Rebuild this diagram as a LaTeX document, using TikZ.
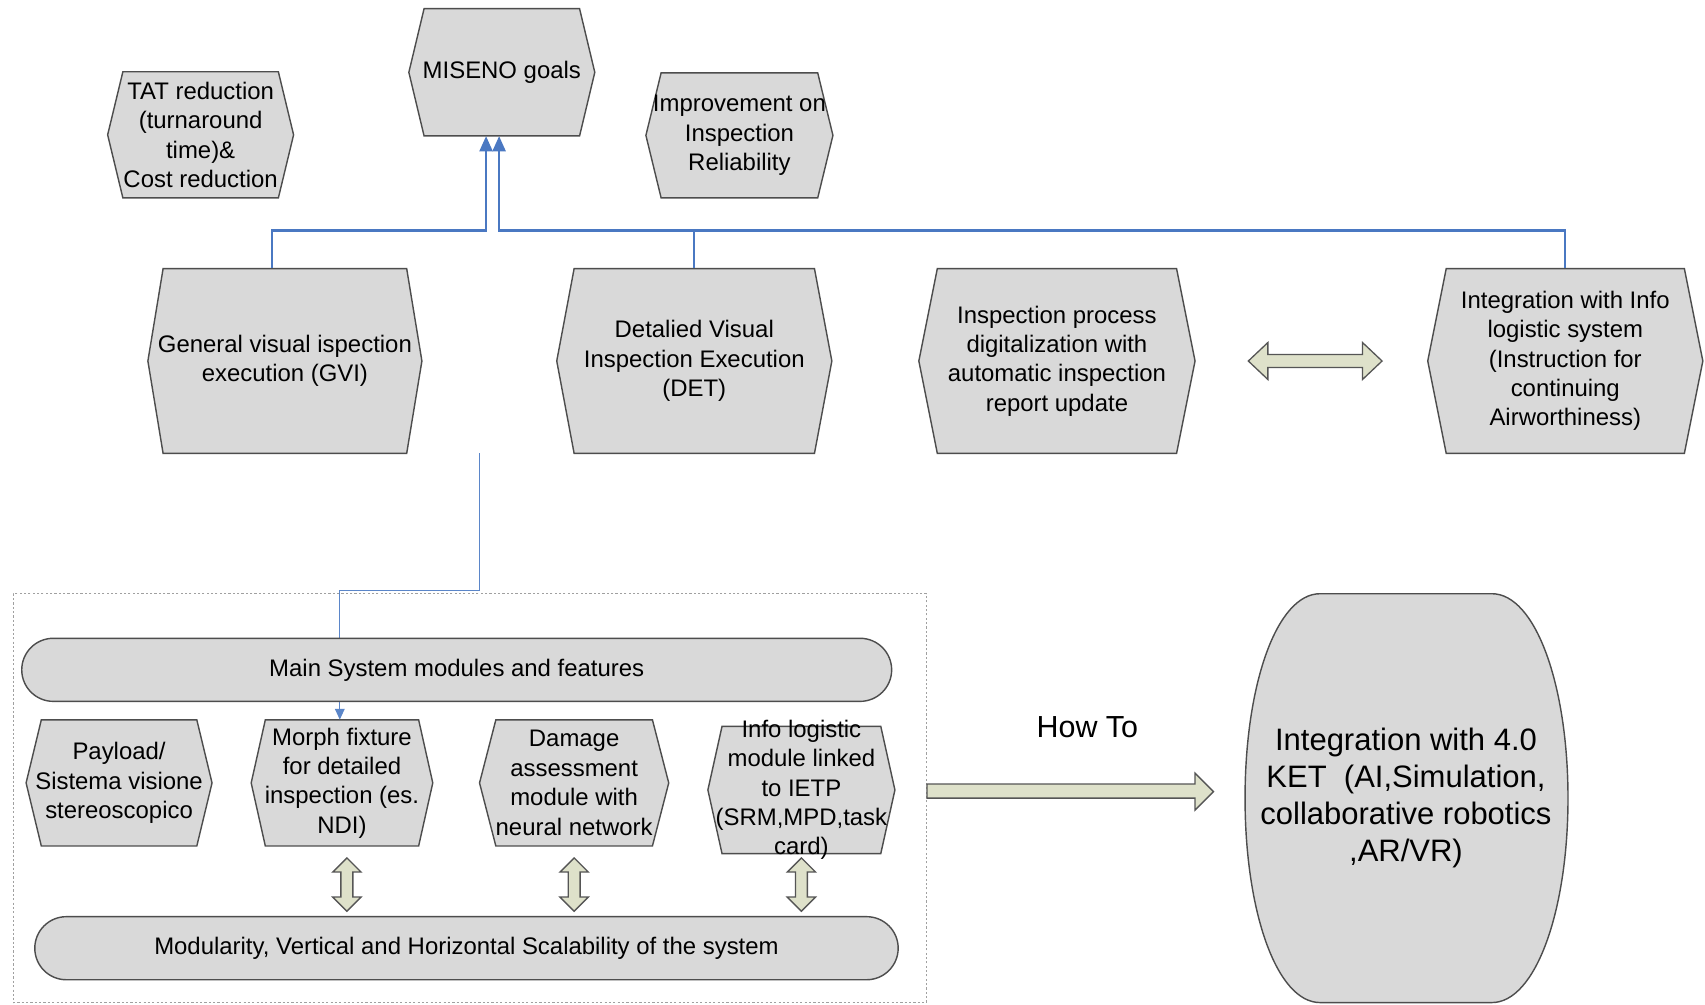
\documentclass[tikz,border=0pt]{standalone}
\usepackage{fontspec}
\setmainfont{Liberation Sans}
\usetikzlibrary{arrows.meta,calc}
\definecolor{boxfill}{HTML}{D9D9D9}
\definecolor{boxline}{HTML}{4D4D4D}
\definecolor{conblue}{HTML}{4A78C2}
\definecolor{thinblue}{HTML}{5B86C9}
\definecolor{arrfill}{HTML}{DEE1CA}
\definecolor{arrline}{HTML}{555555}
\definecolor{dotgray}{HTML}{A0A0A0}
\tikzset{
  hexshape/.style={fill=boxfill, draw=boxline, line width=1.3pt, line join=miter},
  txt/.style={align=center, font=\fontsize{22}{27}\selectfont, inner sep=0pt},
  bigtxt/.style={align=center, font=\fontsize{28.5}{34}\selectfont, inner sep=0pt},
  roundbox/.style={fill=boxfill, draw=boxline, line width=1.3pt, rounded corners=29pt,
    font=\fontsize{22}{27}\selectfont, inner sep=0pt},
  blockarrow/.style={fill=arrfill, draw=arrline, line width=1.2pt, line join=miter},
  goalconn/.style={draw=conblue, line width=2pt, -{Triangle[width=12pt,length=14pt]}},
  goalline/.style={draw=conblue, line width=2pt},
  thinconn/.style={draw=thinblue, line width=1pt, -{Triangle[width=9pt,length=10pt]}},
  sysframe/.style={draw=dotgray, line width=1pt, dash pattern=on 2pt off 2pt}
}
% name, cx, cy, half width, half height, point depth, text
\newcommand\hexa[7]{%
  \filldraw[hexshape] ({#2-#4},{#3}) -- ({#2-#4+#6},{#3-#5}) -- ({#2+#4-#6},{#3-#5})
    -- ({#2+#4},{#3}) -- ({#2+#4-#6},{#3+#5}) -- ({#2-#4+#6},{#3+#5}) -- cycle;
  \node[txt, minimum width={2*#4}, minimum height={2*#5}] (#1) at (#2,#3) {#7};
}
% horizontal block arrow: x1, x2, y, shaft half, head half, head length
\newcommand\hdarrow[6]{%
  \filldraw[blockarrow] (#1,#3) -- ({#1+#6},{#3-#5}) -- ({#1+#6},{#3-#4}) -- ({#2-#6},{#3-#4})
    -- ({#2-#6},{#3-#5}) -- (#2,#3) -- ({#2-#6},{#3+#5}) -- ({#2-#6},{#3+#4})
    -- ({#1+#6},{#3+#4}) -- ({#1+#6},{#3+#5}) -- cycle;
}
\newcommand\vdarrow[6]{%
  \filldraw[blockarrow] (#3,#1) -- ({#3-#5},{#1+#6}) -- ({#3-#4},{#1+#6}) -- ({#3-#4},{#2-#6})
    -- ({#3-#5},{#2-#6}) -- (#3,#2) -- ({#3+#5},{#2-#6}) -- ({#3+#4},{#2-#6})
    -- ({#3+#4},{#1+#6}) -- ({#3+#5},{#1+#6}) -- cycle;
}
\begin{document}
\begin{tikzpicture}[x=1pt,y=-1pt]
\useasboundingbox[fill=white] (0,0) rectangle (1568,924);

% top row
\hexa{tat}{184.5}{124}{85.5}{58}{14}{TAT reduction\\(turnaround\\time)\&\\Cost reduction}
\hexa{miseno}{461.5}{66.5}{85.5}{58.5}{14}{MISENO goals}
\hexa{improve}{680}{124.5}{86}{57.5}{14}{Improvement on\\Inspection\\Reliability}

% middle row
\hexa{gvi}{262}{332}{126}{85}{14}{General visual ispection\\execution (GVI)}
\hexa{det}{638.5}{332}{126.5}{85}{16}{Detalied Visual\\Inspection Execution\\(DET)}
\hexa{digit}{972}{332}{127}{85}{17}{Inspection process\\digitalization with\\automatic inspection\\report update}
\hexa{infoint}{1439.5}{332}{126.5}{85}{17}{Integration with Info\\logistic system\\(Instruction for\\continuing\\Airworthiness)}

% goal connectors
\coordinate (j1) at (447,212);
\coordinate (j2) at (459,212);
\draw[goalconn] ([xshift=-12pt]gvi.north) |- (j1) -- (j1 |- miseno.south);
\draw[goalline] (det.north) -- (det.north |- j2);
\draw[goalconn] (infoint.north) |- (j2) -- (j2 |- miseno.south);

% horizontal double arrow
\hdarrow{1148}{1271}{332}{6}{17}{18}

% system frame
\node[sysframe, minimum width=840, minimum height=376, inner sep=0pt] (sys) at (432,734) {};

% thin connector (behind main box)
\coordinate (s0) at (441,417);
\hexa{morph}{314.5}{720}{83.5}{58}{13}{Morph fixture\\for detailed\\inspection (es.\\NDI)}
\draw[thinconn] (s0) -- ++(0,126) -| ([xshift=-2pt]morph.north);

\node[roundbox, minimum width=800, minimum height=58] (main) at (420,616) {Main System modules and features};

% bottom modules
\hexa{payload}{109.5}{720}{85.5}{58}{14}{Payload/\\Sistema visione\\stereoscopico}
\hexa{damage}{528}{720}{87}{58}{15}{Damage\\assessment\\module with\\neural network}
\hexa{infolog}{737}{726.5}{86}{58.5}{13}{Info logistic\\module linked\\to IETP\\(SRM,MPD,task\\card)}

\node[roundbox, minimum width=794, minimum height=58] (modul) at (429,872) {Modularity, Vertical and Horizontal Scalability of the system};

% vertical double arrows
\vdarrow{789}{838}{319}{5.5}{13}{13}
\vdarrow{789}{838}{528}{5.5}{13}{13}
\vdarrow{789}{838}{737}{5.5}{13}{13}

% How To arrow
\node[font=\fontsize{28}{34}\selectfont, inner sep=0pt] (howto) at (1000,669) {How To};
\filldraw[blockarrow] (sys.east |- 0,721) -- (1099,721) -- (1099,711) -- (1116,728) -- (1099,745)
  -- (1099,734) -- (sys.east |- 0,734) -- cycle;

% Integration 4.0 KET shape
\filldraw[hexshape] (1214,546) -- (1372,546)
  .. controls (1412,546) and (1442,630) .. (1442,734)
  .. controls (1442,838) and (1412,922) .. (1372,922)
  -- (1214,922)
  .. controls (1174,922) and (1145,838) .. (1145,734)
  .. controls (1145,630) and (1174,546) .. (1214,546) -- cycle;
\node[bigtxt] (ket) at (1293,734) {Integration with 4.0\\KET\ \ (AI,Simulation,\\collaborative robotics\\,AR/VR)};
\end{tikzpicture}
\end{document}
